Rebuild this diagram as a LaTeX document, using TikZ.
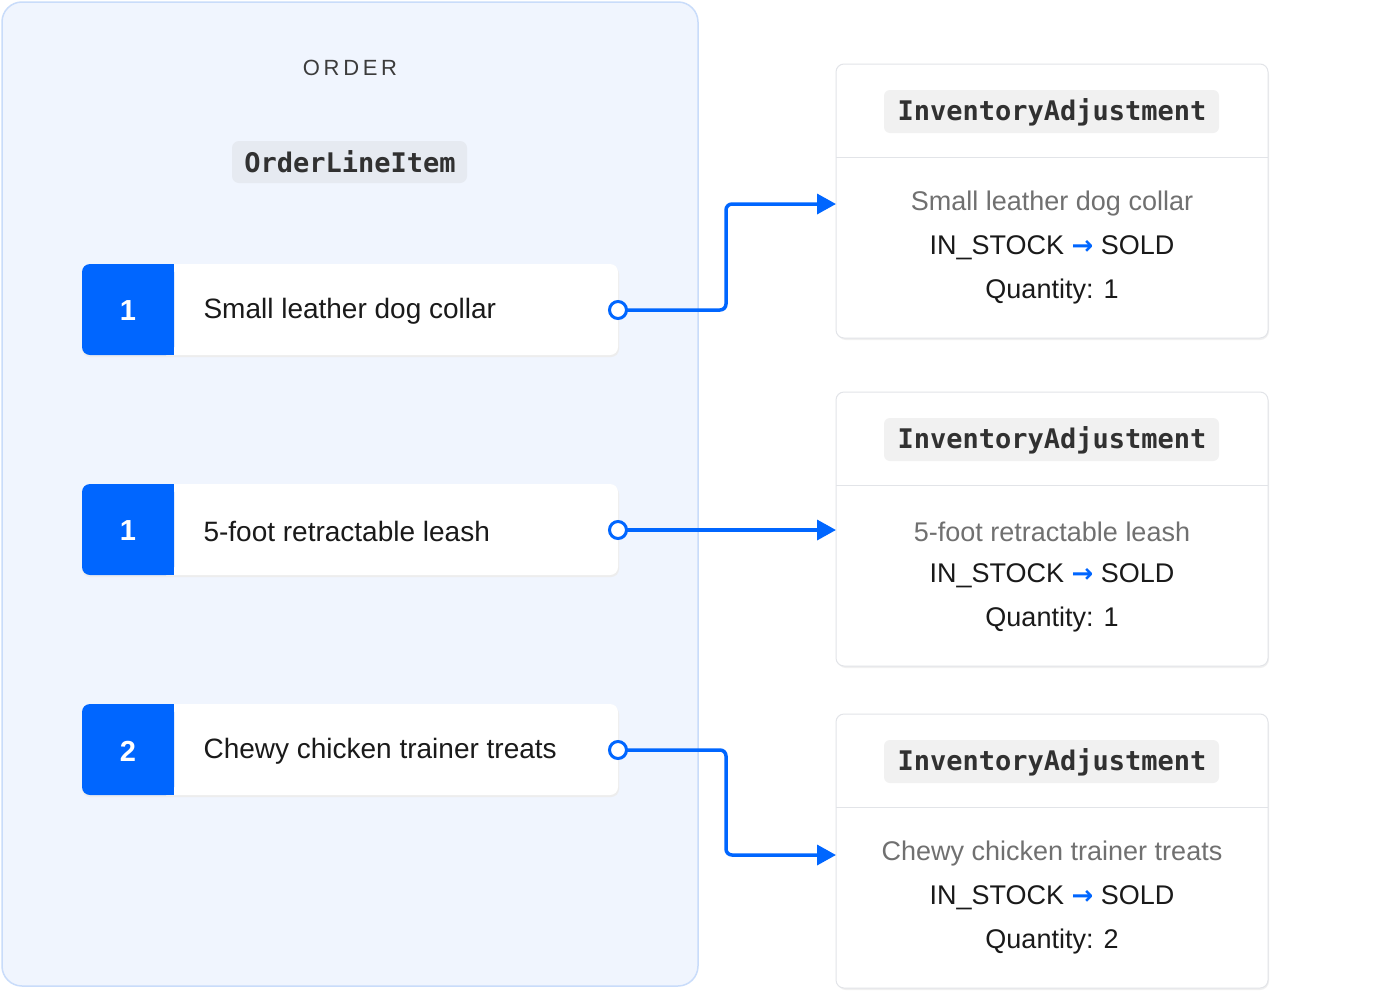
\documentclass[tikz,border=0pt]{standalone}
\usepackage{fontspec}
\setmainfont{Liberation Sans}
\setmonofont{DejaVu Sans Mono}
\newfontfamily\dejavu{DejaVu Sans}
\usetikzlibrary{arrows.meta}
\definecolor{blu}{HTML}{0066FF}
\definecolor{panel}{HTML}{F0F5FE}
\definecolor{panelb}{HTML}{C9DCFA}
\definecolor{codebg}{HTML}{E6EAF1}
\definecolor{codebg2}{HTML}{F1F1F1}
\definecolor{cardb}{HTML}{E2E4E8}
\definecolor{gtxt}{HTML}{707070}
\definecolor{dtxt}{HTML}{1A1A1A}
\begin{document}
\begin{tikzpicture}[x=1pt,y=-1pt,
  card/.style={draw=cardb,line width=1pt,fill=white,rounded corners=8pt},
  conn/.style={draw=blu,line width=3.5pt,rounded corners=6pt,-{Triangle[length=19pt,width=20pt]}},
  dot/.style={circle,draw=blu,fill=white,line width=3pt,minimum size=17pt,inner sep=0pt},
  item/.style={anchor=west,font=\fontsize{28}{32}\selectfont,text=dtxt},
  num/.style={font=\fontsize{29}{30}\selectfont\bfseries,text=white},
  code/.style={font=\fontsize{27}{30}\selectfont\ttfamily\bfseries,text=dtxt!90},
  line/.style={font=\fontsize{27}{30}\selectfont,text=dtxt},
  gline/.style={font=\fontsize{27}{30}\selectfont,text=gtxt}]
\useasboundingbox (0,0) rectangle (1400,1004);
\fill[white] (0,0) rectangle (1400,1004);
% order panel
\draw[fill=panel,draw=panelb,line width=1.5pt,rounded corners=20pt] (2,2) rectangle (698,986);
\node[font=\fontsize{22}{24}\selectfont,text=dtxt!85] (ord) at (350,68) {O\,R\,D\,E\,R};
\fill[codebg,rounded corners=7pt] (232,141) rectangle (467,183);
\node[code] (oli) at (350,162) {OrderLineItem};
% rows
\foreach \y/\n/\t/\k in {264/1/Small leather dog collar/a,484/1/5-foot retractable leash/b,704/2/Chewy chicken trainer treats/c}{
  \fill[black!7,rounded corners=8pt] (82,\y+2) rectangle (619,\y+93);
  \fill[white,rounded corners=8pt] (82,\y) rectangle (618,\y+91);
  \fill[blu,rounded corners=8pt] (82,\y) rectangle (174,\y+91);
  \fill[blu] (140,\y) rectangle (174,\y+91);
  \node[num] (n\k) at (128,\y+47) {\n};
  \node[item] (t\k) at (200,\y+47) {\t};
  \coordinate (d\k) at (618,\y+46);
}
% cards
\foreach \y/\t/\q/\k in {64/Small leather dog collar/1/a,392/5-foot retractable leash/1/b,714/Chewy chicken trainer treats/2/c}{
  \fill[black!6,rounded corners=9pt] (837,\y+2) rectangle (1269,\y+276);
  \path[card] (836,\y) rectangle (1268,\y+274);
  \draw[cardb,line width=1pt] (836,\y+93) -- (1268,\y+93);
  \fill[codebg2,rounded corners=6pt] (884,\y+26) rectangle (1219,\y+69);
  \node[code] (h\k) at (1052,\y+48) {InventoryAdjustment};
  \node[gline] (g\k) at (1052,\y+140) {\t};
  \node[line] (s\k) at (1052,\y+184) {IN\_STOCK {\dejavu\bfseries\color{blu}\fontsize{26}{26}\selectfont →} SOLD};
  \node[line] (q\k) at (1052,\y+228) {Quantity: \q};
}
\coordinate (ina) at (836,204);
\coordinate (inb) at (836,530);
\coordinate (inc) at (836,855);
\draw[conn] (da) -- (726,310) -- (726,204) -- (ina);
\draw[conn] (db) -- (inb);
\draw[conn] (dc) -- (726,750) -- (726,855) -- (inc);
\node[dot] (pa) at (da) {};
\node[dot] (pb) at (db) {};
\node[dot] (pc) at (dc) {};
\end{tikzpicture}
\end{document}
